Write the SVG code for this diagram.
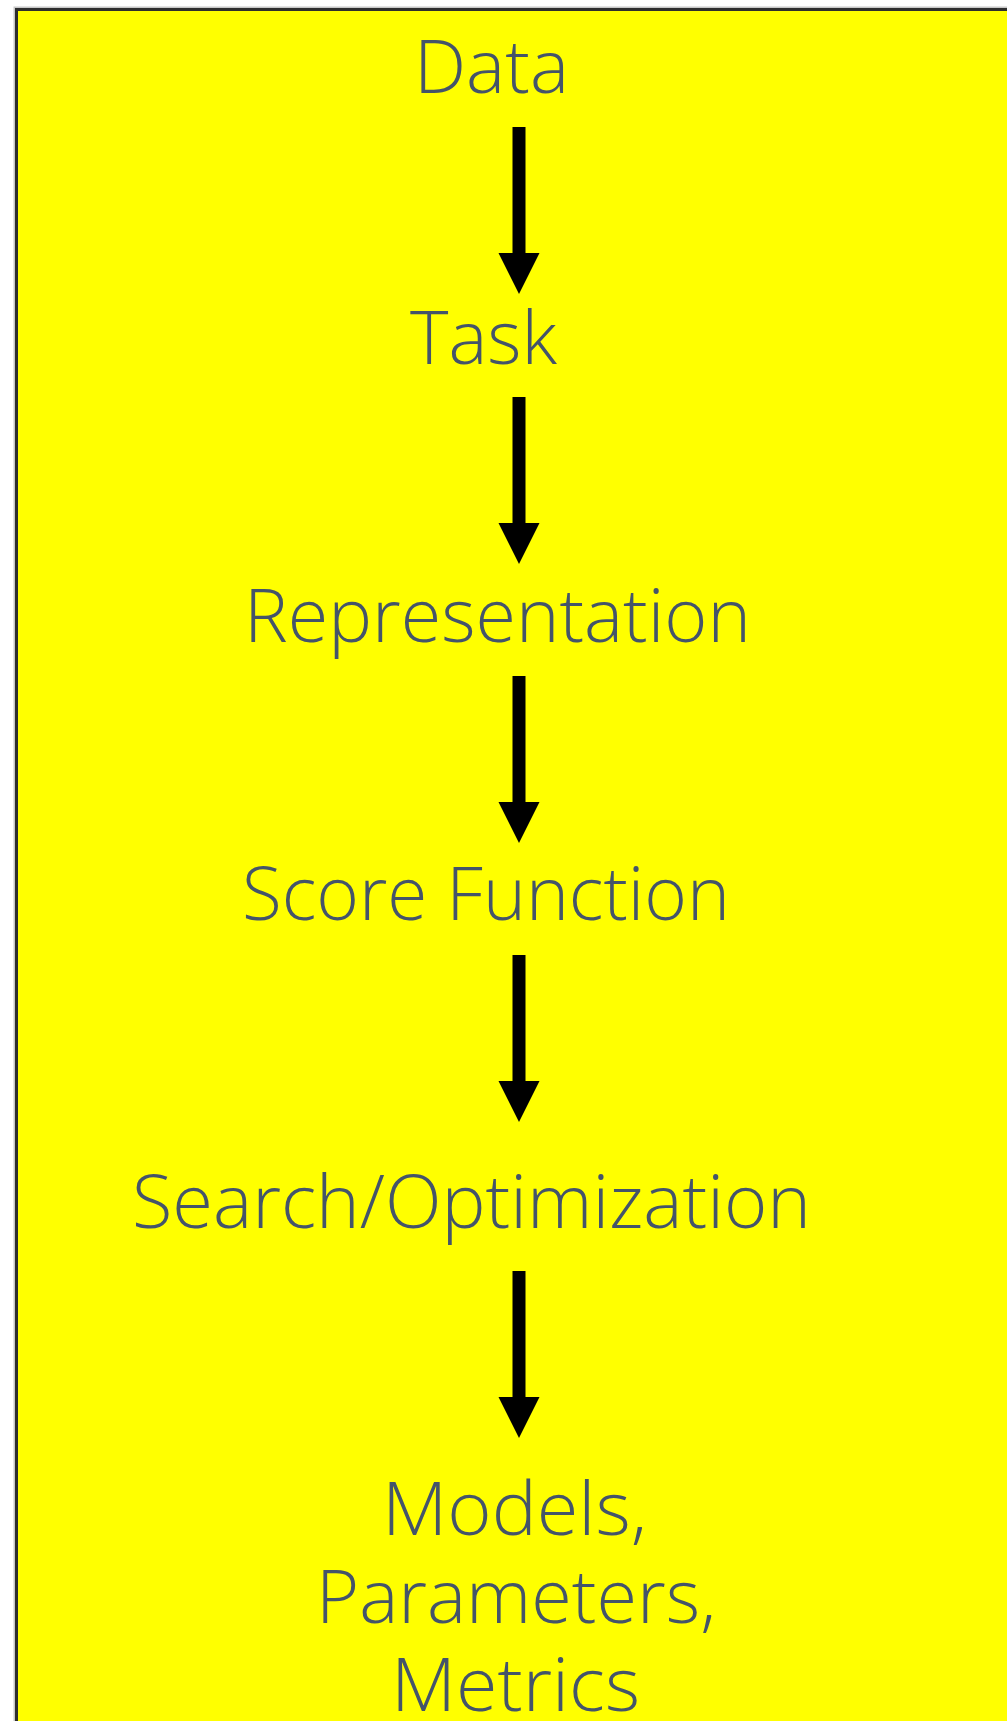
<svg xmlns="http://www.w3.org/2000/svg" width="1007" height="1721" viewBox="0 0 1007 1721">
  <style>
    .lbl { font-family: "Open Sans", "Noto Sans", "Liberation Sans", sans-serif; font-size: 73px; font-weight: 350; fill: #44546A; }
    .arrow { fill: #000000; }
  </style>
  <defs>
    <path id="arr" d="M -6.5 0 L 6.5 0 L 6.5 126 L 20.5 126 L 0 167 L -20.5 126 L -6.5 126 Z"/>
  </defs>
  <rect x="0" y="0" width="1007" height="1721" fill="#ffffff"/>
  <g id="frame">
    <rect x="14.5" y="7.5" width="1100" height="1800" fill="none" stroke="#c8c8c8" stroke-width="2"/>
    <rect x="16.5" y="9.5" width="1100" height="1800" fill="#ffff00" stroke="#2e2e2e" stroke-width="3"/>
  </g>
  <g id="node-data"><text class="lbl" x="414" y="93" textLength="155" lengthAdjust="spacingAndGlyphs">Data</text></g>
  <g id="node-task"><text class="lbl" x="410" y="364" textLength="147" lengthAdjust="spacingAndGlyphs">Task</text></g>
  <g id="node-representation"><text class="lbl" x="244" y="642" textLength="507" lengthAdjust="spacingAndGlyphs">Representation</text></g>
  <g id="node-score"><text class="lbl" x="242" y="920" textLength="488" lengthAdjust="spacingAndGlyphs">Score Function</text></g>
  <g id="node-search"><text class="lbl" x="132" y="1228" textLength="679" lengthAdjust="spacingAndGlyphs">Search/Optimization</text></g>
  <g id="node-models">
    <text class="lbl" x="382" y="1535" textLength="265" lengthAdjust="spacingAndGlyphs">Models,</text>
    <text class="lbl" x="316" y="1623" textLength="400" lengthAdjust="spacingAndGlyphs">Parameters,</text>
    <text class="lbl" x="391" y="1711" textLength="249" lengthAdjust="spacingAndGlyphs">Metrics</text>
  </g>
  <g id="connectors" class="arrow">
    <use href="#arr" x="519" y="127"/>
    <use href="#arr" x="519" y="397"/>
    <use href="#arr" x="519" y="676"/>
    <use href="#arr" x="519" y="955"/>
    <use href="#arr" x="519" y="1271"/>
  </g>
</svg>
